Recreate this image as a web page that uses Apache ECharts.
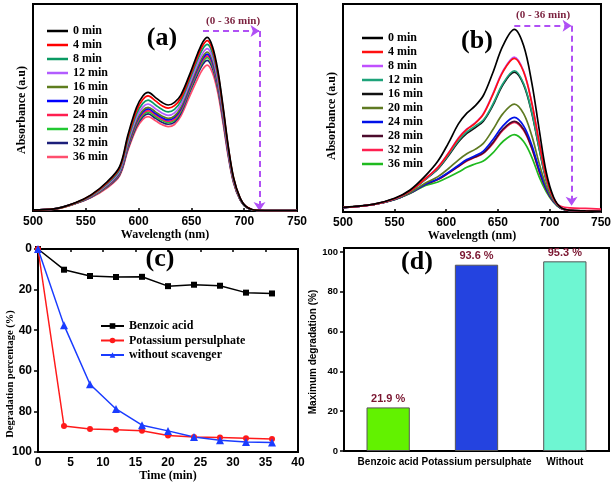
<!DOCTYPE html>
<html><head><meta charset="utf-8">
<script src="https://cdn.jsdelivr.net/npm/echarts@6/dist/echarts.min.js"></script>
<style>html,body{margin:0;padding:0;background:#fff}#c{width:614px;height:485px}</style>
</head><body><div id="c"></div>
<script>
// ---------- Panel (a): spectra, with scavenger (Benzoic acid) ----------
const wlA = [500,520,540,555,570,582,590,598,604,609,616,622,628,634,640,648,656,661,665,670,675,680,685,690,696,702,712,730,750];
const a00 = [.005,.010,.040,.078,.140,.214,.370,.500,.556,.573,.548,.525,.512,.525,.560,.655,.762,.818,.839,.794,.681,.504,.310,.160,.065,.021,.003,.002,.002];
const a04 = [.005,.010,.039,.076,.136,.208,.359,.485,.539,.556,.532,.509,.497,.509,.546,.643,.748,.802,.823,.779,.668,.494,.304,.157,.064,.021,.003,.002,.002];
const a08 = [.005,.010,.038,.074,.131,.200,.346,.468,.520,.536,.512,.491,.479,.491,.531,.629,.732,.785,.805,.762,.654,.484,.298,.154,.062,.020,.003,.002,.002];
const a12 = [.005,.010,.038,.072,.126,.193,.334,.451,.502,.517,.494,.474,.462,.474,.514,.612,.712,.764,.784,.742,.636,.471,.290,.149,.061,.020,.003,.002,.002];
const a16 = [.005,.010,.037,.070,.122,.187,.323,.437,.486,.501,.479,.459,.447,.459,.501,.599,.697,.748,.768,.727,.623,.461,.284,.146,.059,.019,.003,.002,.002];
const a20 = [.005,.010,.037,.069,.120,.184,.318,.430,.478,.493,.471,.452,.440,.452,.494,.592,.689,.739,.758,.718,.616,.456,.280,.145,.059,.019,.003,.002,.002];
const a24 = [.005,.009,.036,.068,.118,.181,.313,.423,.470,.485,.464,.444,.433,.444,.487,.585,.680,.730,.749,.709,.608,.450,.277,.143,.058,.019,.003,.002,.002];
const a28 = [.005,.009,.036,.068,.117,.178,.309,.417,.464,.478,.457,.438,.427,.438,.481,.578,.673,.722,.741,.701,.601,.445,.274,.141,.057,.019,.003,.002,.002];
const a32 = [.005,.009,.036,.067,.115,.175,.303,.409,.455,.469,.448,.429,.419,.429,.472,.569,.661,.710,.728,.689,.591,.437,.269,.139,.056,.018,.003,.002,.002];
const a36 = [.005,.009,.035,.065,.111,.170,.295,.398,.443,.456,.436,.418,.408,.418,.458,.550,.640,.687,.705,.667,.572,.423,.260,.134,.055,.018,.003,.002,.002];

// ---------- Panel (b): spectra, with scavenger (Potassium persulphate) ----------
const wlB = [500,530,550,565,580,592,602,612,620,628,636,645,655,666,675,683,690,697,704,711,720,735,750];
const b00 = [.022,.038,.066,.106,.175,.245,.330,.425,.475,.510,.560,.667,.800,.878,.800,.620,.400,.190,.072,.022,.008,.005,.003];
const b04 = [.022,.037,.064,.101,.161,.215,.281,.355,.397,.426,.470,.562,.674,.739,.674,.522,.337,.165,.065,.021,.008,.005,.003];
const b08 = [.022,.037,.064,.101,.161,.216,.282,.357,.399,.428,.473,.566,.678,.745,.678,.526,.339,.166,.065,.021,.008,.005,.003];
const b12 = [.022,.037,.063,.100,.158,.210,.274,.344,.385,.413,.442,.516,.618,.679,.618,.479,.309,.153,.062,.020,.008,.005,.003];
const b16 = [.022,.037,.063,.100,.157,.207,.269,.338,.378,.405,.437,.510,.612,.672,.612,.474,.306,.152,.062,.020,.008,.005,.003];
const b20 = [.022,.036,.061,.093,.139,.170,.208,.251,.280,.301,.330,.394,.473,.519,.473,.366,.236,.124,.054,.019,.007,.005,.003];
const b24 = [.021,.036,.060,.091,.134,.159,.190,.225,.252,.270,.293,.346,.414,.455,.414,.321,.207,.112,.051,.018,.007,.005,.003];
const b28 = [.021,.036,.060,.091,.133,.157,.187,.221,.247,.265,.284,.332,.398,.436,.398,.308,.199,.109,.050,.018,.007,.005,.003];
const b32 = [.021,.036,.060,.091,.133,.156,.186,.219,.245,.263,.282,.327,.393,.431,.393,.304,.196,.108,.050,.028,.020,.017,.014];
const b36 = [.021,.036,.059,.089,.127,.144,.167,.192,.215,.231,.245,.283,.339,.372,.339,.263,.170,.097,.047,.018,.007,.005,.003];

const timeNames = ['0 min','4 min','8 min','12 min','16 min','20 min','24 min','28 min','32 min','36 min'];

// ---------- Panel (c): degradation percentage vs time ----------
const times = [0,4,8,12,16,20,24,28,32,36];
const benzoic = [0,10.2,13.3,13.8,13.7,18.3,17.6,18.1,21.5,21.9];
const persulphate = [0,87.2,88.7,89.0,89.5,91.9,92.6,92.8,93.2,93.6];
const withoutScav = [0,37.5,66.6,78.8,86.8,89.6,92.6,94.2,95.1,95.3];

// ---------- Panel (d): maximum degradation ----------
const barCats = ['Benzoic acid','Potassium persulphate','Without'];
const barVals = [21.9,93.6,95.3];

// ---------- styles ----------
const colA = ['#000000','#ff0000','#0a9a63','#b25cff','#5e7d1e','#0000ff','#ff1e50','#22c832','#1c1f7a','#ff4f6e'];
const colB = ['#000000','#ff1010','#c050ff','#1ea37a','#111111','#5f7a22','#0010e8','#4c0b2c','#ff2050','#1fba1f'];
const barCol = ['#62f200','#2443e0','#6ef6d2'];
const SERIF = '"Liberation Serif","Times New Roman",serif';
const SANS = '"Liberation Sans",Arial,sans-serif';

const dataA = [a00,a04,a08,a12,a16,a20,a24,a28,a32,a36];
const dataB = [b00,b04,b08,b12,b16,b20,b24,b28,b32,b36];

const series = [];
const arrowStyle = {type:[6,4], color:'#b050f5', width:2};
dataA.forEach((arr,i)=>{
  const s = {type:'line', name:'a|'+timeNames[i], xAxisIndex:0, yAxisIndex:0, smooth:0.35, symbol:'none',
    data: wlA.map((w,j)=>[w,arr[j]]), lineStyle:{width:1.7,color:colA[i]}, itemStyle:{color:colA[i]}, z:20-i};
  if(i===0){
    s.markLine = {silent:true, symbol:['none','arrow'], symbolSize:[9,9], label:{show:false}, lineStyle:arrowStyle,
      data:[[{coord:[661,0.87]},{coord:[714.5,0.87]}],[{coord:[714.5,0.87]},{coord:[714.5,0.0]}]]};
  }
  series.push(s);
});
dataB.forEach((arr,i)=>{
  const s = {type:'line', name:'b|'+timeNames[i], xAxisIndex:1, yAxisIndex:1, smooth:0.35, symbol:'none',
    data: wlB.map((w,j)=>[w,arr[j]]), lineStyle:{width:1.7,color:colB[i]}, itemStyle:{color:colB[i]}, z:20-i};
  if(i===0){
    s.markLine = {silent:true, symbol:['none','arrow'], symbolSize:[9,9], label:{show:false}, lineStyle:arrowStyle,
      data:[[{coord:[666,0.896]},{coord:[721.5,0.896]}],[{coord:[721.5,0.896]},{coord:[721.5,0.03]}]]};
  }
  series.push(s);
});
const cSeries = [
  {name:'Benzoic acid', d:benzoic, color:'#000000', symbol:'rect', size:6},
  {name:'Potassium persulphate', d:persulphate, color:'#ff1a1a', symbol:'circle', size:6},
  {name:'without scavenger', d:withoutScav, color:'#1a3cff', symbol:'triangle', size:8}
];
cSeries.forEach(c=>{
  series.push({type:'line', name:c.name, xAxisIndex:2, yAxisIndex:2, symbol:c.symbol, symbolSize:c.size,
    data: times.map((t,j)=>[t,c.d[j]]), lineStyle:{width:1.5,color:c.color}, itemStyle:{color:c.color}});
});
series.push({type:'bar', name:'max', xAxisIndex:3, yAxisIndex:3, barWidth:'49%',
  data: barVals.map((v,i)=>({value:v, itemStyle:{color:barCol[i]}})),
  itemStyle:{borderColor:'#555', borderWidth:1},
  label:{show:true, position:'top', distance:3, formatter:'{c} %', color:'#7a1530', fontFamily:SANS, fontWeight:'bold', fontSize:11}});

const gridStyle = {show:true, borderColor:'#000', borderWidth:2, backgroundColor:'transparent'};
const tickLab = (sz,m)=>({fontFamily:SANS, fontWeight:'bold', fontSize:sz, color:'#000', margin:m});
const nameStyle = {fontFamily:SERIF, fontWeight:'bold', fontSize:12, color:'#000'};
const legText = {fontFamily:SERIF, fontWeight:'bold', fontSize:12, color:'#000', lineHeight:12};

const option = {
  animation:false,
  backgroundColor:'#fff',
  grid:[
    Object.assign({left:33, top:4, width:264, height:207}, gridStyle),
    Object.assign({left:343, top:4, width:258, height:208}, gridStyle),
    Object.assign({left:38, top:249, width:260, height:203}, gridStyle),
    Object.assign({left:344, top:248, width:265, height:203}, gridStyle)
  ],
  xAxis:[
    {gridIndex:0, type:'value', min:500, max:750, interval:50, axisLine:{show:false},
     axisTick:{inside:true, length:3, lineStyle:{color:'#000', width:1.5}}, splitLine:{show:false},
     axisLabel:tickLab(12,5), name:'Wavelength (nm)', nameLocation:'middle', nameGap:17, nameTextStyle:nameStyle},
    {gridIndex:1, type:'value', min:500, max:750, interval:50, axisLine:{show:false},
     axisTick:{inside:true, length:3, lineStyle:{color:'#000', width:1.5}}, splitLine:{show:false},
     axisLabel:tickLab(12,5), name:'Wavelength (nm)', nameLocation:'middle', nameGap:17, nameTextStyle:nameStyle},
    {gridIndex:2, type:'value', min:0, max:40, interval:5, axisLine:{show:false},
     axisTick:{length:3, lineStyle:{color:'#000', width:1.5}}, splitLine:{show:false},
     axisLabel:tickLab(12,5), name:'Time (min)', nameLocation:'middle', nameGap:16, nameTextStyle:nameStyle},
    {gridIndex:3, type:'category', data:barCats, axisLine:{show:true, lineStyle:{color:'#000', width:2}},
     axisTick:{alignWithLabel:true, length:4, lineStyle:{color:'#000', width:1.5}},
     axisLabel:Object.assign(tickLab(10,6), {interval:0})}
  ],
  yAxis:[
    {gridIndex:0, type:'value', min:0, max:1, axisLine:{show:false}, axisTick:{show:false}, axisLabel:{show:false}, splitLine:{show:false}},
    {gridIndex:1, type:'value', min:0, max:1, axisLine:{show:false}, axisTick:{show:false}, axisLabel:{show:false}, splitLine:{show:false}},
    {gridIndex:2, type:'value', min:0, max:100, interval:20, inverse:true, axisLine:{show:false},
     axisTick:{show:true, length:4, lineStyle:{color:'#000', width:1.5}}, splitLine:{show:false}, axisLabel:tickLab(12,6)},
    {gridIndex:3, type:'value', min:0, max:102, interval:20, axisLine:{show:false},
     axisTick:{show:true, length:4, lineStyle:{color:'#000', width:1.5}}, splitLine:{show:false},
     axisLabel:Object.assign(tickLab(9.5,6), {showMaxLabel:false, formatter:v=>(v%20===0?String(v):'')})}
  ],
  legend:[
    {data:timeNames.map(n=>'a|'+n), orient:'vertical', left:47, top:25, padding:0, icon:'rect', itemWidth:21, itemHeight:2.5, itemGap:2,
     selectedMode:false, textStyle:legText, formatter:n=>n.split('|')[1]},
    {data:timeNames.map(n=>'b|'+n), orient:'vertical', left:362, top:32, padding:0, icon:'rect', itemWidth:21, itemHeight:2.5, itemGap:2,
     selectedMode:false, textStyle:legText, formatter:n=>n.split('|')[1]},
    {data:['Benzoic acid','Potassium persulphate','without scavenger'], orient:'vertical', left:100, top:320, padding:0,
     itemWidth:23, itemHeight:7, itemGap:2.5, selectedMode:false, textStyle:legText}
  ],
  graphic:[
    {type:'text', x:162, y:38, style:{text:'(a)', font:'bold 26px '+SERIF, fill:'#000', align:'center', verticalAlign:'middle', textAlign:'center', textVerticalAlign:'middle'}},
    {type:'text', x:477, y:41, style:{text:'(b)', font:'bold 26px '+SERIF, fill:'#000', align:'center', verticalAlign:'middle', textAlign:'center', textVerticalAlign:'middle'}},
    {type:'text', x:160, y:259, style:{text:'(c)', font:'bold 26px '+SERIF, fill:'#000', align:'center', verticalAlign:'middle', textAlign:'center', textVerticalAlign:'middle'}},
    {type:'text', x:417, y:262, style:{text:'(d)', font:'bold 26px '+SERIF, fill:'#000', align:'center', verticalAlign:'middle', textAlign:'center', textVerticalAlign:'middle'}},
    {type:'text', x:233, y:21, style:{text:'(0 - 36 min)', font:'bold 11px '+SERIF, fill:'#7a1f3d', align:'center', verticalAlign:'middle', textAlign:'center', textVerticalAlign:'middle'}},
    {type:'text', x:543, y:15, style:{text:'(0 - 36 min)', font:'bold 11px '+SERIF, fill:'#7a1f3d', align:'center', verticalAlign:'middle', textAlign:'center', textVerticalAlign:'middle'}},
    {type:'text', x:22, y:110, rotation:Math.PI/2, style:{text:'Absorbance (a.u)', font:'bold 12px '+SERIF, fill:'#000', align:'center', verticalAlign:'middle', textAlign:'center', textVerticalAlign:'middle'}},
    {type:'text', x:332, y:116, rotation:Math.PI/2, style:{text:'Absorbance (a.u)', font:'bold 12px '+SERIF, fill:'#000', align:'center', verticalAlign:'middle', textAlign:'center', textVerticalAlign:'middle'}},
    {type:'text', x:10, y:374, rotation:Math.PI/2, style:{text:'Degradation percentage (%)', font:'bold 10.5px '+SERIF, fill:'#000', align:'center', verticalAlign:'middle', textAlign:'center', textVerticalAlign:'middle'}},
    {type:'text', x:313, y:352, rotation:Math.PI/2, style:{text:'Maximum degradation (%)', font:'bold 10px '+SANS, fill:'#000', align:'center', verticalAlign:'middle', textAlign:'center', textVerticalAlign:'middle'}}
  ],
  series:series
};
const chart = echarts.init(document.getElementById('c'), null, {renderer:'canvas'});
chart.setOption(option);
</script></body></html>
